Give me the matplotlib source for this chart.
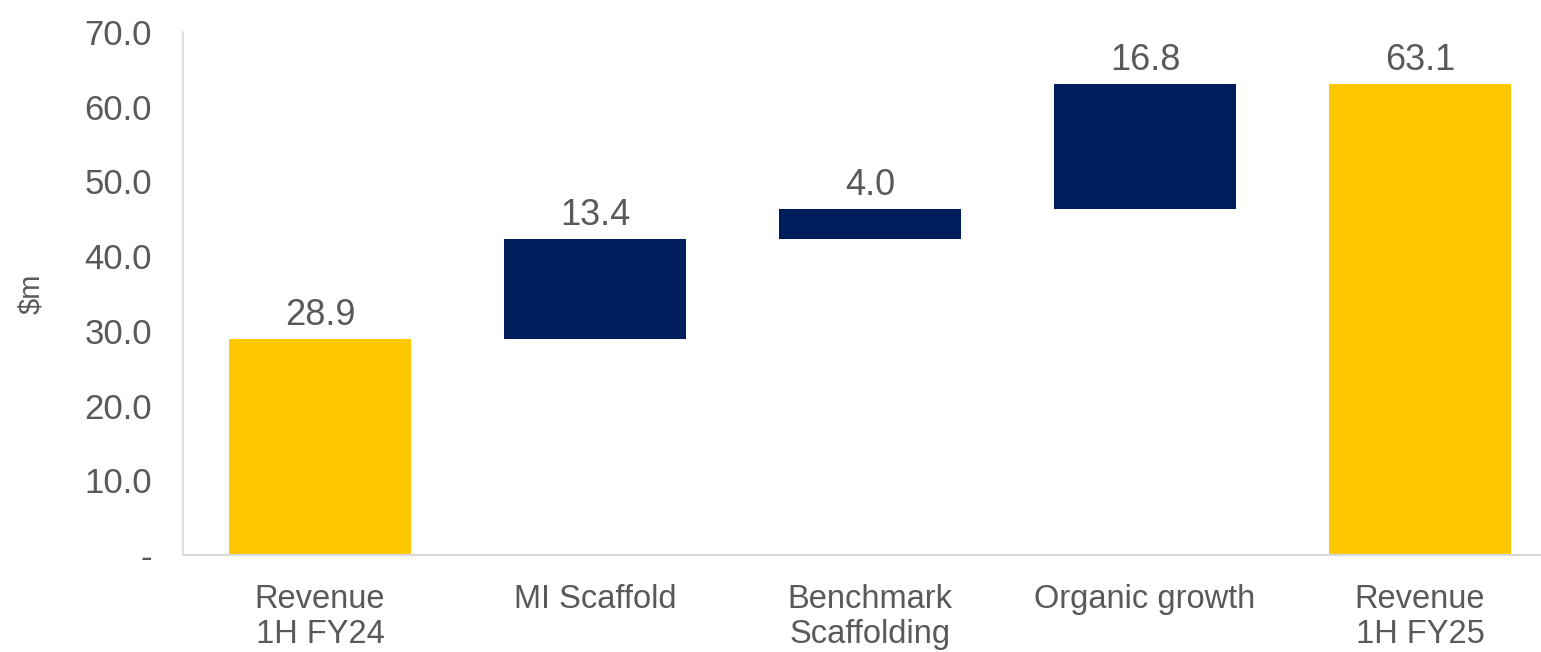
import numpy as np
import matplotlib.pyplot as plt

plt.rcParams['font.family'] = ['Liberation Sans', 'DejaVu Sans']

# data (waterfall, $m)
categories = ['Revenue\n1H FY24', 'MI Scaffold', 'Benchmark\nScaffolding', 'Organic growth', 'Revenue\n1H FY25']
start_value = 28.9
changes = [13.4, 4.0, 16.8]
end_value = 63.1
yticks = [0, 10, 20, 30, 40, 50, 60, 70]
ytick_labels = ['-', '10.0', '20.0', '30.0', '40.0', '50.0', '60.0', '70.0']

yellow = '#FFC800'
navy = '#001E5C'
grey = '#595959'

heights = [start_value] + changes + [end_value]
bottoms = [0] + list(start_value + np.cumsum([0] + changes[:-1])) + [0]
colors = [yellow] + [navy] * len(changes) + [yellow]

fig = plt.figure(figsize=(15.41, 6.52), dpi=100)
ax = fig.add_axes([182.5 / 1541, 97 / 652, 1375 / 1541, 523 / 652])

x = np.arange(len(categories))
ax.bar(x, heights, bottom=bottoms, color=colors, width=0.66)

for xi, h, b in zip(x, heights, bottoms):
    ax.text(xi, b + h + 0.8, f'{h:.1f}', ha='center', va='bottom', fontsize=26, color=grey)

ax.set_xlim(-0.5, len(categories) - 0.5)
ax.set_ylim(0, 70)
ax.set_yticks(yticks)
ax.set_yticklabels(ytick_labels)
ax.set_xticks(x)
ax.set_xticklabels(categories, linespacing=1.15)
ax.tick_params(axis='y', length=0, pad=22, labelsize=25, labelcolor=grey)
ax.tick_params(axis='x', length=0, pad=21, labelsize=23.5, labelcolor=grey)
ax.set_ylabel('$m', fontsize=21, color=grey, labelpad=28)

for s in ['top', 'right']:
    ax.spines[s].set_visible(False)
ax.spines['left'].set_color('#d9d9d9')
ax.spines['bottom'].set_color('#d9d9d9')
ax.spines['left'].set_linewidth(1.2)
ax.spines['bottom'].set_linewidth(1.5)

fig.savefig('out.png', dpi=100)
